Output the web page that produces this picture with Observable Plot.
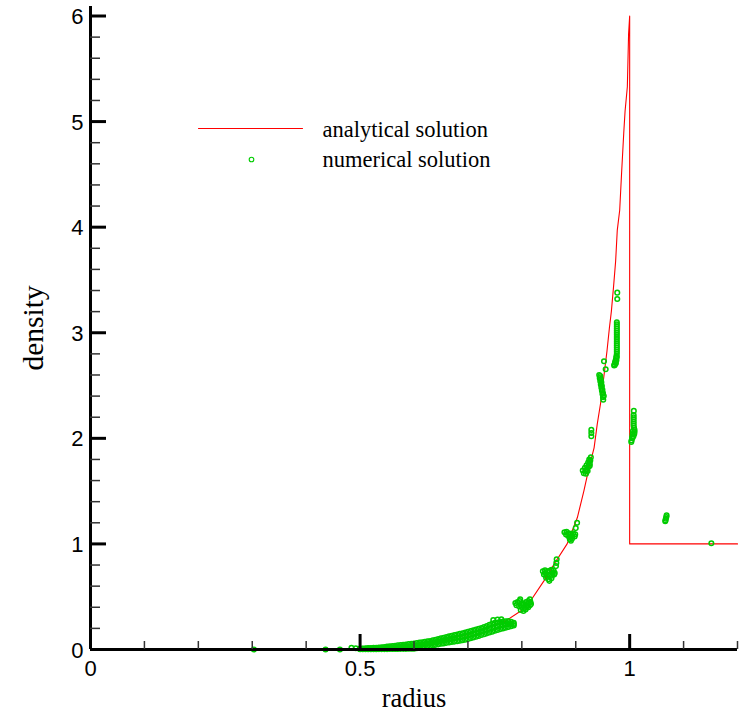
<!DOCTYPE html>
<html><head><meta charset="utf-8">
<script src="https://cdn.jsdelivr.net/npm/d3@7"></script>
<script src="https://cdn.jsdelivr.net/npm/@observablehq/plot@0.6"></script>
<style>body{margin:0;background:#fff} #chart svg{display:block}</style>
</head><body><div id="chart"></div>
<script>
// ---- axis ticks ----
const xMajor = [0, 0.5, 1];
const xTickLabels = ["0", "0.5", "1"];
const xMinor = [0.1, 0.2, 0.3, 0.4, 0.6, 0.7, 0.8, 0.9, 1.1, 1.2];
const yMajor = [0, 1, 2, 3, 4, 5, 6];
const yTickLabels = ["0", "1", "2", "3", "4", "5", "6"];
const yMinor = [0.2, 0.4, 0.6, 0.8, 1.2, 1.4, 1.6, 1.8, 2.2, 2.4, 2.6, 2.8,
  3.2, 3.4, 3.6, 3.8, 4.2, 4.4, 4.6, 4.8, 5.2, 5.4, 5.6, 5.8];
const legendLabels = ["analytical solution", "numerical solution"];

// ---- analytical solution ----
const anaR = [0, 0.3, 0.4, 0.45, 0.5, 0.55, 0.6, 0.65, 0.7, 0.736, 0.77, 0.798, 0.816, 0.841, 0.86,
  0.884, 0.903, 0.915, 0.9245, 0.934, 0.94, 0.946, 0.952, 0.958, 0.9625, 0.966, 0.97, 0.974, 0.977,
  0.9815, 0.985, 0.989, 0.9915, 0.9957, 0.998, 1.0, 1.0, 1.2];
const anaRho = [0, 0.0005, 0.002, 0.005, 0.012, 0.025, 0.045, 0.085, 0.14, 0.21, 0.27, 0.365, 0.46, 0.65, 0.81,
  1.0, 1.25, 1.5, 1.72, 1.91, 2.14, 2.33, 2.58, 2.83, 3.05, 3.2, 3.43, 3.68, 3.97,
  4.16, 4.51, 4.89, 5.1, 5.33, 5.83, 6.0, 1.0, 1.0];

// ---- numerical solution: dense band (radius, low / mid / high density) ----
const bandR = [0.500,0.505,0.510,0.515,0.520,0.525,0.530,0.535,0.540,0.545,0.550,0.555,0.560,0.565,0.570,
  0.575,0.580,0.585,0.590,0.595,0.600,0.605,0.610,0.615,0.620,0.625,0.630,0.635,0.640,0.645,0.650,0.655,
  0.660,0.665,0.670,0.675,0.680,0.685,0.690,0.695,0.700,0.705,0.710,0.715,0.720,0.725,0.730,0.735,0.740,
  0.745,0.750,0.755,0.760,0.765,0.770,0.775,0.780,0.785];
const bandHi = [0.008,0.010,0.011,0.013,0.014,0.016,0.017,0.019,0.021,0.024,
  0.027,0.030,0.033,0.036,0.039,0.042,0.045,0.048,0.051,0.054,
  0.057,0.061,0.065,0.069,0.073,0.077,0.081,0.087,0.093,0.099,
  0.105,0.111,0.118,0.124,0.130,0.136,0.142,0.148,0.154,0.161,
  0.167,0.174,0.181,0.188,0.195,0.202,0.213,0.223,0.234,0.244,
  0.252,0.256,0.260,0.264,0.268,0.269,0.262,0.252];
const bandMid = [0.005,0.006,0.007,0.008,0.009,0.010,0.010,0.012,0.013,0.014,
  0.016,0.018,0.019,0.021,0.022,0.024,0.026,0.027,0.029,0.031,
  0.033,0.037,0.041,0.045,0.049,0.054,0.058,0.063,0.069,0.074,
  0.080,0.085,0.091,0.096,0.101,0.106,0.111,0.116,0.121,0.127,
  0.134,0.141,0.148,0.155,0.162,0.170,0.179,0.188,0.198,0.207,
  0.215,0.221,0.227,0.232,0.238,0.242,0.242,0.240];
const bandLo = [0.002,0.002,0.002,0.003,0.003,0.003,0.003,0.004,0.004,0.004,
  0.004,0.005,0.005,0.005,0.005,0.006,0.006,0.006,0.007,0.007,
  0.008,0.012,0.016,0.021,0.025,0.030,0.034,0.039,0.044,0.049,
  0.054,0.058,0.063,0.067,0.071,0.075,0.079,0.083,0.088,0.093,
  0.100,0.107,0.114,0.121,0.129,0.137,0.145,0.153,0.161,0.169,
  0.178,0.185,0.193,0.200,0.207,0.214,0.221,0.228];

// ---- numerical solution: clusters [radius, density] ----
const numSparse = [[0.303,0.0],[0.436,0.0],[0.4626,0.0],[0.484,0.017],[0.492,0.012],
  [0.747,0.28],[0.755,0.283],[0.762,0.285]];
const numClusterA = [[0.788,0.44],[0.792,0.45],[0.796,0.46],[0.800,0.44],[0.804,0.43],[0.808,0.45],
  [0.812,0.46],[0.816,0.45],[0.790,0.42],[0.795,0.41],[0.800,0.40],[0.805,0.39],[0.810,0.41],[0.815,0.42],
  [0.798,0.375],[0.803,0.365],[0.807,0.38],[0.800,0.42],[0.808,0.415],[0.813,0.44],[0.797,0.475],
  [0.815,0.476],[0.812,0.40],[0.817,0.43]];
const numClusterB = [[0.839,0.74],[0.843,0.75],[0.847,0.735],[0.851,0.745],[0.855,0.755],[0.859,0.745],
  [0.861,0.725],[0.841,0.71],[0.846,0.70],[0.851,0.71],[0.856,0.70],[0.860,0.71],[0.845,0.68],[0.850,0.665],
  [0.855,0.675],[0.851,0.65],[0.843,0.725],[0.857,0.725],[0.8646,0.855],[0.8633,0.79],[0.864,0.82]];
const numClusterC = [[0.879,1.11],[0.883,1.115],[0.887,1.10],[0.891,1.09],[0.895,1.10],[0.899,1.09],
  [0.882,1.09],[0.886,1.075],[0.890,1.065],[0.894,1.075],[0.898,1.07],[0.889,1.045],[0.893,1.05],
  [0.891,1.03],[0.9025,1.20],[0.900,1.15]];
const numClusterD = [[0.928,1.82],[0.927,1.79],[0.926,1.76],[0.924,1.73],[0.921,1.71],[0.918,1.69],
  [0.915,1.67],[0.917,1.72],[0.920,1.745],[0.923,1.77],[0.925,1.80],[0.913,1.695],[0.919,1.665],
  [0.922,1.69],[0.926,1.74]];
const numClusterE = [[0.9289,2.08],[0.9289,2.05],[0.9289,2.02]];
const numClusterF = [[0.9435,2.60],[0.9445,2.57],[0.9455,2.54],[0.9465,2.51],[0.9475,2.48],[0.9485,2.45],
  [0.9495,2.42],[0.9505,2.39],[0.951,2.365],[0.9455,2.59],[0.9465,2.56],[0.9475,2.53],[0.9485,2.495],
  [0.9495,2.46],[0.9505,2.43],[0.952,2.40],[0.9524,2.73],[0.9555,2.654]];
const numClusterG = [[0.9762,3.10],[0.9762,3.08],[0.9762,3.06],[0.9762,3.04],[0.9762,3.02],[0.9762,3.00],
  [0.9762,2.98],[0.9762,2.96],[0.9762,2.94],[0.9762,2.92],[0.9762,2.90],[0.9762,2.88],[0.9762,2.86],
  [0.9762,2.84],[0.9762,2.82],[0.9762,2.80],[0.9755,2.78],[0.975,2.76],[0.974,2.74],[0.9728,2.72],
  [0.9718,2.70],[0.9712,2.69],[0.9725,2.695],[0.9745,2.71],[0.9755,2.74],[0.9762,2.77],
  [0.9770,3.38],[0.9770,3.32]];
const numClusterH = [[1.0077,2.26],[1.0074,2.22],[1.0074,2.20],[1.0074,2.18],[1.0074,2.16],[1.0074,2.14],
  [1.0074,2.12],[1.008,2.10],[1.009,2.08],[1.009,2.06],[1.0085,2.04],[1.007,2.02],[1.005,2.00],
  [1.0035,1.98],[1.003,1.965],[1.006,2.07],[1.0055,2.04],[1.0045,2.01]];
const numClusterI = [[1.0685,1.27],[1.068,1.255],[1.0672,1.24],[1.0665,1.225],[1.066,1.215]];
const numClusterJ = [[1.1515,1.007]];

// ---- build tables ----
const analytic = anaR.map((r, i) => ({r, rho: anaRho[i]}));
const numerical = [];
bandR.forEach((r, i) => {
  numerical.push({r, rho: bandLo[i]}, {r, rho: bandMid[i]}, {r, rho: bandHi[i]});
});
[numSparse, numClusterA, numClusterB, numClusterC, numClusterD, numClusterE, numClusterF,
 numClusterG, numClusterH, numClusterI, numClusterJ].forEach(c =>
  c.forEach(([r, rho]) => numerical.push({r, rho})));

const GREEN = "#00cc00";
const SANS = "'Liberation Sans', Arial, Helvetica, sans-serif";
const SERIF = "'Liberation Serif', 'Times New Roman', Times, serif";
const W = 746, H = 712, ML = 90, MR = 9, MT = 6, MB = 63;
const frameW = W - ML - MR, frameH = H - MT - MB;
const lineShape = {draw(ctx, l) { ctx.moveTo(0, 0); ctx.lineTo(0, -l); }};

const chart = Plot.plot({
  width: W, height: H,
  marginLeft: ML, marginRight: MR, marginTop: MT, marginBottom: MB,
  x: {domain: [0, 1.2], axis: null},
  y: {domain: [0, 6.09], axis: null},
  style: {background: "white", overflow: "visible"},
  marks: [
    Plot.line(analytic, {x: "r", y: "rho", stroke: "#ff0000", strokeWidth: 1.1}),
    Plot.dot(numerical, {x: "r", y: "rho", r: 2.3, stroke: GREEN, strokeWidth: 1.5, fill: "none"}),
    // axes lines
    Plot.ruleY([0], {stroke: "black", strokeWidth: 3}),
    Plot.ruleX([0], {stroke: "black", strokeWidth: 3}),
    // ticks (inside)
    Plot.ruleX(xMajor, {x: d => d, stroke: "black", strokeWidth: 3, insetTop: frameH - 15}),
    Plot.ruleX(xMinor, {x: d => d, stroke: "#333", strokeWidth: 1.5, insetTop: frameH - 8}),
    Plot.ruleY(yMajor, {y: d => d, stroke: "black", strokeWidth: 3, insetRight: frameW - 16}),
    Plot.ruleY(yMinor, {y: d => d, stroke: "#333", strokeWidth: 1.5, insetRight: frameW - 10}),
    // tick labels
    Plot.text(xMajor, {x: d => d, y: () => 0, text: (d, i) => xTickLabels[i], dy: 11, lineAnchor: "top",
      fontSize: 22, fontFamily: SANS, fill: "black"}),
    Plot.text(yMajor, {x: () => 0, y: d => d, text: (d, i) => yTickLabels[i], dx: -7, dy: 1,
      textAnchor: "end", lineAnchor: "middle", fontSize: 22, fontFamily: SANS, fill: "black"}),
    // axis titles
    Plot.text(["radius"], {text: d => d, frameAnchor: "bottom", dy: 57, lineAnchor: "bottom",
      textAnchor: "middle", fontSize: 26.5, fontFamily: SERIF, fill: "black"}),
    Plot.text(["density"], {text: d => d, frameAnchor: "left", rotate: -90, dx: -48, dy: 0,
      textAnchor: "middle", lineAnchor: "bottom", fontSize: 29.5, fontFamily: SERIF, fill: "black"}),
    // legend
    Plot.vector([legendLabels[0]], {frameAnchor: "top-left", dx: 108, dy: 122, length: 104,
      rotate: 90, anchor: "start", shape: lineShape, stroke: "#ff0000", strokeWidth: 1.1}),
    Plot.dot([legendLabels[1]], {frameAnchor: "top-left", dx: 161, dy: 153, r: 2.3,
      stroke: GREEN, strokeWidth: 1.1, fill: "none"}),
    Plot.text([legendLabels[0]], {text: d => d, frameAnchor: "top-left", dx: 232, dy: 130,
      lineAnchor: "bottom", textAnchor: "start", fontSize: 22.5, fontFamily: SERIF, fill: "black"}),
    Plot.text([legendLabels[1]], {text: d => d, frameAnchor: "top-left", dx: 232, dy: 160,
      lineAnchor: "bottom", textAnchor: "start", fontSize: 22.5, fontFamily: SERIF, fill: "black"})
  ]
});
document.getElementById("chart").appendChild(chart);
</script></body></html>
